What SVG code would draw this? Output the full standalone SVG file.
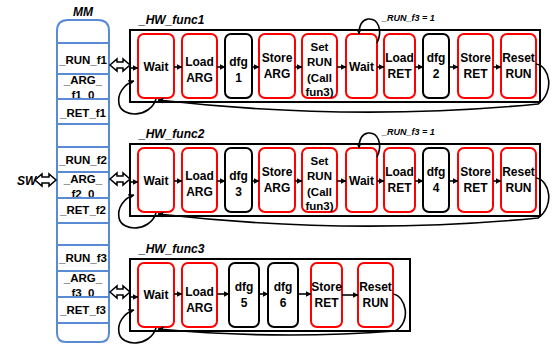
<svg xmlns="http://www.w3.org/2000/svg" width="560" height="345" viewBox="0 0 560 345">
<style>
.t{font-family:"Liberation Sans",Arial,sans-serif;font-weight:bold;font-size:12px;text-anchor:middle;fill:#000}
.s{font-size:11.5px}
.m{font-family:"Liberation Sans",Arial,sans-serif;font-weight:bold;font-size:11.5px;text-anchor:middle;fill:#000}
.i{font-family:"Liberation Sans",Arial,sans-serif;font-weight:bold;font-style:italic;font-size:12px;fill:#000}
.lbl{font-family:"Liberation Sans",Arial,sans-serif;font-weight:bold;font-style:italic;font-size:9px;fill:#000}
.red{fill:#fff;stroke:#ff0000;stroke-width:2}
.blk{fill:#fff;stroke:#000;stroke-width:2}
.out{fill:#fff;stroke:#000;stroke-width:2}
.cell{fill:#fff;stroke:#5a8ad4;stroke-width:2}
.dbl{fill:#fff;stroke:#000;stroke-width:1.5;stroke-linejoin:miter}
.c{fill:none;stroke:#000;stroke-width:1.6}
.a{marker-end:url(#ah)}
</style>
<defs>
<marker id="ah" viewBox="0 0 10 10" refX="9" refY="5" markerWidth="6" markerHeight="6" markerUnits="userSpaceOnUse" orient="auto">
<path d="M0,0 L10,5 L0,10 Z" fill="#000"/>
</marker>
</defs>

<!-- MM column -->
<g id="mm">
<text class="i" x="83" y="16" text-anchor="middle" font-size="13">MM</text>
<path class="cell" d="M57,43 V31 Q57,20 68,20 H98 Q109,20 109,31 V43 Z"/>
<rect class="cell" x="57" y="43" width="52" height="31"/>
<text class="m" x="83" y="64">_RUN_f1</text>
<rect class="cell" x="57" y="74" width="52" height="25"/>
<text class="m" x="83" y="84">_ARG_</text>
<text class="m" x="83" y="99">f1_0</text>
<rect class="cell" x="57" y="99" width="52" height="25"/>
<text class="m" x="83" y="117">_RET_f1</text>
<rect class="cell" x="57" y="124" width="52" height="23"/>
<rect class="cell" x="57" y="147" width="52" height="25"/>
<text class="m" x="83" y="164">_RUN_f2</text>
<rect class="cell" x="57" y="172" width="52" height="26"/>
<text class="m" x="83" y="183">_ARG_</text>
<text class="m" x="83" y="198">f2_0</text>
<rect class="cell" x="57" y="198" width="52" height="25"/>
<text class="m" x="83" y="214">_RET_f2</text>
<rect class="cell" x="57" y="223" width="52" height="22"/>
<rect class="cell" x="57" y="245" width="52" height="26"/>
<text class="m" x="83" y="262">_RUN_f3</text>
<rect class="cell" x="57" y="271" width="52" height="26"/>
<text class="m" x="83" y="282">_ARG_</text>
<text class="m" x="83" y="297">f3_0</text>
<rect class="cell" x="57" y="297" width="52" height="26"/>
<text class="m" x="83" y="314">_RET_f3</text>
<path class="cell" d="M57,323 V333 Q57,342 66,342 H100 Q109,342 109,333 V323 Z"/>
</g>

<g id="sw">
<text class="i" x="17" y="185">SW</text>
</g>

<!-- containers -->
<g id="hw_func1">
<text class="i" x="139" y="24">_HW_func1</text>
<rect class="out" x="130" y="30" width="410" height="72"/>
</g>
<g id="hw_func2">
<text class="i" x="139" y="138">_HW_func2</text>
<rect class="out" x="130" y="144" width="410" height="72"/>
</g>
<g id="hw_func3">
<text class="i" x="139" y="253">_HW_func3</text>
<rect class="out" x="130" y="259" width="280" height="72"/>
</g>

<!-- row 1 nodes -->
<g id="f1_wait1"><rect class="red" x="138" y="34" width="36" height="64" rx="6"/><text class="t" x="156" y="71">Wait</text></g>
<g id="f1_loadarg"><rect class="red" x="182" y="34" width="35" height="64" rx="6"/><text class="t" x="199.5" y="66">Load</text><text class="t" x="199.5" y="82">ARG</text></g>
<g id="f1_dfg1"><rect class="blk" x="225" y="34" width="27" height="64" rx="6"/><text class="t" x="238.5" y="66">dfg</text><text class="t" x="238.5" y="82">1</text></g>
<g id="f1_storearg"><rect class="red" x="259" y="34" width="36" height="64" rx="6"/><text class="t" x="277" y="62">Store</text><text class="t" x="277" y="78">ARG</text></g>
<g id="f1_setrun"><rect class="red" x="302" y="34" width="35" height="64" rx="6"/><text class="t s" x="319.5" y="51">Set</text><text class="t s" x="319.5" y="66">RUN</text><text class="t s" x="319.5" y="82">(Call</text><text class="t s" x="319.5" y="96">fun3)</text></g>
<g id="f1_wait2"><rect class="red" x="346" y="34" width="31" height="64" rx="6"/><text class="t" x="361.5" y="71">Wait</text></g>
<g id="f1_loadret"><rect class="red" x="384" y="34" width="31" height="64" rx="6"/><text class="t" x="399.5" y="62">Load</text><text class="t" x="399.5" y="78">RET</text></g>
<g id="f1_dfg2"><rect class="blk" x="423" y="34" width="26" height="64" rx="6"/><text class="t" x="436" y="62">dfg</text><text class="t" x="436" y="78">2</text></g>
<g id="f1_storeret"><rect class="red" x="458" y="34" width="35" height="64" rx="6"/><text class="t" x="475.5" y="62">Store</text><text class="t" x="475.5" y="78">RET</text></g>
<g id="f1_resetrun"><rect class="red" x="501" y="34" width="35" height="64" rx="6"/><text class="t" x="518.5" y="62">Reset</text><text class="t" x="518.5" y="78">RUN</text></g>

<!-- row 2 nodes -->
<g id="f2_wait1"><rect class="red" x="138" y="148" width="36" height="64" rx="6"/><text class="t" x="156" y="185">Wait</text></g>
<g id="f2_loadarg"><rect class="red" x="182" y="148" width="35" height="64" rx="6"/><text class="t" x="199.5" y="180">Load</text><text class="t" x="199.5" y="196">ARG</text></g>
<g id="f2_dfg3"><rect class="blk" x="225" y="148" width="27" height="64" rx="6"/><text class="t" x="238.5" y="180">dfg</text><text class="t" x="238.5" y="196">3</text></g>
<g id="f2_storearg"><rect class="red" x="259" y="148" width="36" height="64" rx="6"/><text class="t" x="277" y="176">Store</text><text class="t" x="277" y="192">ARG</text></g>
<g id="f2_setrun"><rect class="red" x="302" y="148" width="35" height="64" rx="6"/><text class="t s" x="319.5" y="165">Set</text><text class="t s" x="319.5" y="180">RUN</text><text class="t s" x="319.5" y="196">(Call</text><text class="t s" x="319.5" y="210">fun3)</text></g>
<g id="f2_wait2"><rect class="red" x="346" y="148" width="31" height="64" rx="6"/><text class="t" x="361.5" y="185">Wait</text></g>
<g id="f2_loadret"><rect class="red" x="384" y="148" width="31" height="64" rx="6"/><text class="t" x="399.5" y="176">Load</text><text class="t" x="399.5" y="192">RET</text></g>
<g id="f2_dfg4"><rect class="blk" x="423" y="148" width="26" height="64" rx="6"/><text class="t" x="436" y="176">dfg</text><text class="t" x="436" y="192">4</text></g>
<g id="f2_storeret"><rect class="red" x="458" y="148" width="35" height="64" rx="6"/><text class="t" x="475.5" y="176">Store</text><text class="t" x="475.5" y="192">RET</text></g>
<g id="f2_resetrun"><rect class="red" x="501" y="148" width="35" height="64" rx="6"/><text class="t" x="518.5" y="176">Reset</text><text class="t" x="518.5" y="192">RUN</text></g>

<!-- row 3 nodes -->
<g id="f3_wait"><rect class="red" x="138" y="263" width="36" height="64" rx="6"/><text class="t" x="156" y="299">Wait</text></g>
<g id="f3_loadarg"><rect class="red" x="182" y="263" width="35" height="64" rx="6"/><text class="t" x="199.5" y="296">Load</text><text class="t" x="199.5" y="312">ARG</text></g>
<g id="f3_dfg5"><rect class="blk" x="229" y="263" width="30" height="64" rx="6"/><text class="t" x="244" y="291">dfg</text><text class="t" x="244" y="307">5</text></g>
<g id="f3_dfg6"><rect class="blk" x="268" y="263" width="30" height="64" rx="6"/><text class="t" x="283" y="291">dfg</text><text class="t" x="283" y="307">6</text></g>
<g id="f3_storeret"><rect class="red" x="311" y="263" width="31" height="64" rx="6"/><text class="t" x="326.5" y="291">Store</text><text class="t" x="326.5" y="307">RET</text></g>
<g id="f3_resetrun"><rect class="red" x="358" y="263" width="35" height="64" rx="6"/><text class="t" x="375.5" y="291">Reset</text><text class="t" x="375.5" y="307">RUN</text></g>

<!-- connectors -->
<g id="connectors">
<polygon class="dbl" points="35,180 42,174 42,177 49,177 49,174 56,180 49,186 49,183 42,183 42,186"/>
<polygon class="dbl" points="110,65 117,59 117,62 123,62 123,59 130,65 123,71 123,68 117,68 117,71"/>
<polygon class="dbl" points="110,179 117,173 117,176 123,176 123,173 130,179 123,185 123,182 117,182 117,185"/>
<polygon class="dbl" points="110,292 117,286 117,289 123,289 123,286 130,292 123,298 123,295 117,295 117,298"/>

<!-- row 1 -->
<path class="c a" d="M130,68 H138"/>
<path class="c a" d="M174,67 H182"/>
<path class="c a" d="M217,67 H225"/>
<path class="c a" d="M252,67 H259"/>
<path class="c a" d="M295,67 H302"/>
<path class="c a" d="M337,67 H346"/>
<path class="c a" d="M377,67 H384"/>
<path class="c a" d="M415,67 H423"/>
<path class="c a" d="M449,67 H458"/>
<path class="c a" d="M493,67 H501"/>
<path class="c a" d="M536,64 C550,66 555,92 538,104 Q352,122 158,100"/>
<path class="c a" d="M156,99 C150,118 122,118 119,104 C117,94 124,84 134,81"/>
<path class="c a" d="M377,43 C383,30 378,18 368,19 C362,20 359,26 359,34"/>
<text class="lbl" x="382" y="21">_RUN_f3 = 1</text>

<!-- row 2 -->
<path class="c a" d="M130,182 H138"/>
<path class="c a" d="M174,181 H182"/>
<path class="c a" d="M217,181 H225"/>
<path class="c a" d="M252,181 H259"/>
<path class="c a" d="M295,181 H302"/>
<path class="c a" d="M337,181 H346"/>
<path class="c a" d="M377,181 H384"/>
<path class="c a" d="M415,181 H423"/>
<path class="c a" d="M449,181 H458"/>
<path class="c a" d="M493,181 H501"/>
<path class="c a" d="M536,178 C550,180 555,206 538,218 Q352,236 158,214"/>
<path class="c a" d="M156,213 C150,232 122,232 119,218 C117,208 124,198 134,195"/>
<path class="c a" d="M377,157 C383,144 378,132 368,133 C362,134 359,140 359,148"/>
<text class="lbl" x="382" y="135">_RUN_f3 = 1</text>

<!-- row 3 -->
<path class="c a" d="M130,297 H138"/>
<path class="c a" d="M174,294 H182"/>
<path class="c a" d="M217,294 H229"/>
<path class="c a" d="M259,294 H268"/>
<path class="c a" d="M298,294 H311"/>
<path class="c a" d="M342,295 H358"/>
<path class="c a" d="M393,294 C406,296 412,322 395,331 Q280,340 158,329"/>
<path class="c a" d="M156,328 C150,347 122,347 119,333 C117,323 124,313 134,310"/>
</g>
</svg>
